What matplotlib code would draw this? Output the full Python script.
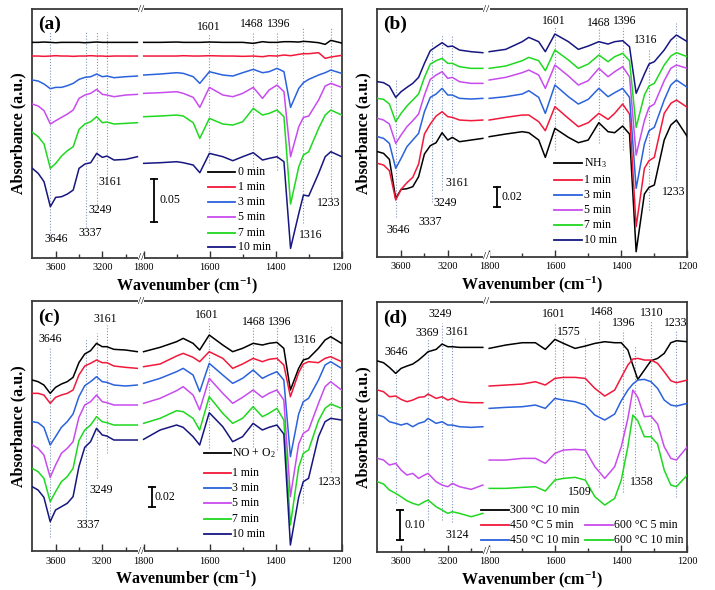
import numpy as np
import matplotlib
matplotlib.use('Agg')
from matplotlib import pyplot as plt

plt.rcParams['font.family'] = ['Liberation Serif', 'DejaVu Serif']
plt.rcParams['mathtext.fontset'] = 'custom'
plt.rcParams['mathtext.rm'] = 'Liberation Serif'
plt.rcParams['mathtext.it'] = 'Liberation Serif:italic'
plt.rcParams['mathtext.bf'] = 'Liberation Serif:bold'

# wavenumber grids (cm-1) of the two parts of the broken axis
wn_hi = [3800, 3750, 3700, 3646, 3600, 3550, 3500, 3450, 3400, 3350, 3300, 3249, 3200, 3161, 3100, 3000, 2900]
wn_lo = [1800, 1750, 1700, 1680, 1650, 1630, 1601, 1560, 1530, 1500, 1468, 1440, 1420, 1396, 1375, 1355,
         1330, 1316, 1300, 1270, 1250, 1233, 1200]
wn_hi_d = [3800, 3750, 3700, 3646, 3600, 3550, 3500, 3450, 3400, 3369, 3300, 3249, 3200, 3161, 3100, 3000, 2900]
wn_lo_d = [1800, 1750, 1700, 1660, 1630, 1601, 1575, 1540, 1509, 1480, 1450, 1420, 1400, 1380, 1365, 1350,
           1330, 1310, 1290, 1270, 1250, 1233, 1200]

# (a) absorbance, a.u. (stacked)
a_0_hi = [646, 646, 647, 646, 645, 646, 646, 646, 646, 645, 646, 647, 646, 646, 646, 646, 646]
a_0_lo = [646, 646, 647, 646, 646, 646, 647, 646, 646, 646, 643, 648, 646, 646, 648, 648, 647, 649, 648, 645, 640, 652, 644]
a_1_hi = [605, 605, 604, 605, 606, 605, 605, 604, 605, 605, 606, 605, 605, 604, 605, 605, 605]
a_1_lo = [605, 605, 605, 606, 605, 605, 606, 605, 605, 604, 605, 603, 606, 605, 608, 606, 610, 612, 612, 615, 598, 602, 607]
a_3_hi = [533, 530, 521, 507, 511, 511, 516, 523, 535, 541, 543, 551, 543, 545, 540, 543, 545]
a_3_lo = [548, 551, 555, 553, 543, 523, 558, 548, 545, 555, 565, 555, 558, 568, 558, 451, 508, 525, 535, 548, 555, 563, 553]
a_5_hi = [461, 455, 441, 401, 411, 421, 431, 443, 478, 488, 493, 505, 490, 488, 483, 488, 490]
a_5_lo = [493, 495, 498, 493, 481, 451, 511, 488, 483, 493, 511, 478, 503, 518, 498, 303, 393, 421, 425, 473, 515, 523, 511]
a_7_hi = [376, 363, 341, 268, 283, 305, 321, 333, 385, 401, 408, 423, 405, 407, 401, 403, 405]
a_7_lo = [423, 425, 428, 425, 405, 358, 418, 401, 398, 408, 448, 428, 433, 443, 423, 161, 273, 308, 318, 388, 428, 443, 428]
a_10_hi = [268, 253, 228, 153, 181, 183, 191, 203, 268, 281, 285, 313, 301, 305, 293, 295, 303]
a_10_lo = [283, 285, 288, 285, 278, 255, 313, 303, 291, 303, 315, 293, 298, 303, 288, 28, 133, 188, 185, 253, 303, 318, 303]

# (b)
b_0_hi = [315, 310, 292, 175, 202, 204, 210, 240, 308, 333, 342, 372, 350, 358, 345, 350, 355]
b_0_lo = [360, 368, 375, 372, 350, 298, 385, 358, 342, 350, 402, 375, 372, 392, 368, 15, 188, 208, 215, 350, 395, 410, 360]
b_1_hi = [280, 275, 258, 170, 202, 222, 238, 278, 368, 398, 422, 435, 420, 418, 410, 408, 410]
b_1_lo = [410, 418, 425, 425, 405, 378, 450, 415, 390, 402, 430, 412, 430, 458, 428, 90, 265, 288, 298, 430, 460, 470, 448]
b_3_hi = [360, 355, 340, 265, 295, 330, 350, 370, 435, 478, 488, 505, 485, 485, 475, 473, 475]
b_3_lo = [475, 480, 488, 498, 478, 430, 515, 480, 458, 472, 505, 480, 492, 505, 478, 205, 338, 378, 388, 470, 515, 530, 508]
b_5_hi = [415, 410, 398, 340, 365, 390, 408, 428, 485, 532, 545, 555, 535, 538, 525, 520, 520]
b_5_lo = [530, 538, 552, 560, 545, 505, 575, 542, 515, 528, 565, 540, 555, 570, 540, 305, 408, 448, 458, 528, 565, 575, 565]
b_7_hi = [475, 472, 458, 405, 430, 452, 470, 488, 538, 578, 588, 595, 580, 580, 570, 565, 565]
b_7_lo = [565, 572, 588, 598, 588, 558, 620, 590, 565, 578, 605, 585, 600, 610, 588, 388, 485, 512, 520, 575, 602, 612, 600]
b_10_hi = [525, 522, 512, 478, 495, 508, 520, 538, 580, 618, 630, 642, 630, 632, 620, 615, 612]
b_10_lo = [615, 622, 645, 658, 645, 615, 668, 645, 622, 632, 645, 638, 645, 648, 630, 490, 548, 578, 585, 620, 650, 665, 645]

# (c)
c_0_hi = [513, 508, 498, 473, 491, 501, 508, 521, 565, 591, 601, 623, 613, 613, 605, 603, 598]
c_0_lo = [598, 611, 628, 638, 623, 603, 648, 618, 598, 608, 623, 618, 623, 626, 608, 483, 548, 573, 578, 608, 633, 643, 623]
c_1_hi = [473, 473, 468, 443, 461, 468, 473, 483, 528, 555, 563, 573, 565, 565, 555, 551, 548]
c_1_lo = [553, 561, 585, 593, 581, 568, 598, 578, 548, 561, 578, 568, 575, 578, 558, 463, 535, 561, 568, 565, 578, 583, 568]
c_3_hi = [388, 385, 371, 318, 343, 371, 388, 411, 463, 496, 508, 523, 508, 506, 498, 495, 498]
c_3_lo = [503, 518, 538, 548, 528, 478, 563, 528, 503, 518, 543, 518, 528, 538, 513, 283, 411, 448, 458, 513, 558, 568, 548]
c_5_hi = [318, 308, 288, 221, 258, 293, 308, 328, 401, 438, 448, 468, 448, 445, 438, 438, 438]
c_5_lo = [443, 458, 481, 493, 468, 423, 518, 473, 443, 461, 483, 461, 473, 483, 453, 163, 321, 353, 363, 443, 493, 508, 483]
c_7_hi = [248, 238, 218, 148, 178, 208, 223, 248, 331, 363, 378, 403, 388, 385, 378, 378, 378]
c_7_lo = [383, 398, 421, 418, 398, 363, 463, 413, 383, 398, 433, 403, 413, 428, 393, 78, 251, 293, 303, 391, 428, 441, 428]
c_10_hi = [193, 183, 161, 88, 123, 133, 143, 163, 253, 311, 328, 368, 348, 345, 333, 333, 333]
c_10_lo = [335, 363, 378, 371, 343, 318, 415, 373, 328, 343, 383, 363, 371, 378, 351, 18, 161, 208, 218, 343, 388, 398, 393]

# (d)
d_300_10_hi = [572, 567, 553, 535, 550, 557, 563, 575, 590, 600, 607, 623, 615, 615, 613, 613, 613]
d_300_10_lo = [610, 620, 627, 627, 607, 637, 625, 610, 617, 625, 630, 627, 627, 605, 560, 517, 545, 573, 580, 595, 627, 633, 630]
d_450_5_hi = [485, 480, 465, 467, 457, 450, 455, 463, 465, 473, 460, 465, 455, 460, 450, 447, 447]
d_450_5_lo = [497, 500, 503, 510, 500, 520, 523, 523, 520, 490, 467, 485, 523, 560, 578, 580, 575, 575, 565, 540, 513, 507, 515]
d_450_10_hi = [410, 405, 390, 385, 380, 385, 375, 385, 390, 400, 385, 390, 380, 380, 375, 373, 375]
d_450_10_lo = [430, 433, 435, 440, 430, 460, 455, 450, 440, 410, 395, 413, 453, 485, 503, 515, 517, 510, 490, 455, 440, 437, 445]
d_600_5_hi = [280, 275, 260, 265, 245, 230, 235, 220, 230, 235, 210, 200, 195, 205, 195, 187, 200]
d_600_5_lo = [275, 275, 280, 280, 265, 295, 305, 307, 305, 255, 220, 255, 315, 400, 485, 463, 405, 407, 383, 315, 280, 275, 315]
d_600_10_hi = [210, 203, 185, 175, 165, 153, 145, 140, 150, 155, 135, 125, 115, 120, 115, 105, 115]
d_600_10_lo = [190, 190, 193, 195, 182, 215, 220, 223, 215, 165, 140, 160, 215, 315, 410, 393, 345, 345, 323, 245, 200, 195, 230]

labels_a = ['0 min', '1 min', '3 min', '5 min', '7 min', '10 min']
labels_b = ['NH$_3$', '1 min', '3 min', '5 min', '7 min', '10 min']
labels_c = ['NO + O$_2$', '1 min', '3 min', '5 min', '7 min', '10 min']
labels_d = ['300 \u00b0C 10 min', '450 \u00b0C 5 min', '450 \u00b0C 10 min', '600 \u00b0C 5 min', '600 \u00b0C 10 min']

# band positions marked in each panel (cm-1)
bands_a = [3646, 3337, 3249, 3161, 1601, 1468, 1396, 1316, 1233]
bands_b = [3646, 3337, 3249, 3161, 1601, 1468, 1396, 1316, 1233]
bands_c = [3646, 3337, 3249, 3161, 1601, 1468, 1396, 1316, 1233]
bands_d = [3646, 3369, 3249, 3161, 1601, 1575, 1509, 1468, 1396, 1358, 1310, 1233]

BLACK, RED, BLUE, PURPLE, GREEN, NAVY = '#000000', '#f2183a', '#2a62dc', '#c84bee', '#1fd81f', '#161680'
GUIDE = '#7f95ba'

# broken x axis: 3806-2880 compressed, 1800-1200 expanded
WN_KNOTS = [0, 1200, 1800, 2880, 6000]
U_KNOTS = [-396, 0, 198, 202, 202 + 3120 * 0.1167]


def fwd(w):
    return np.interp(w, WN_KNOTS, U_KNOTS)


def inv(u):
    return np.interp(u, U_KNOTS, WN_KNOTS)


fig = plt.figure(figsize=(7.15, 5.9), dpi=100)
axes = {
    'a': fig.add_axes([0.0443, 0.5632, 0.4336, 0.4215]),
    'b': fig.add_axes([0.5273, 0.5649, 0.4340, 0.4198]),
    'c': fig.add_axes([0.0441, 0.0661, 0.4336, 0.4237]),
    'd': fig.add_axes([0.5273, 0.0649, 0.4340, 0.4237]),
}


def setup(ax, top, tag, tag_y):
    ax.set_xscale('function', functions=(fwd, inv))
    ax.set_xlim(3806, 1200)
    ax.set_ylim(0, top)
    ax.set_yticks([])
    ax.set_xticks([3600, 3200, 1800, 1600, 1400, 1200])
    ax.set_xticklabels(['3600', '3200', '1800', '1600', '1400', '1200'])
    ax.set_xticks([3400, 3000, 1700, 1500, 1300], minor=True)
    ax.tick_params(axis='x', which='both', direction='in', top=False, labelsize=7.5, pad=4,
                   color='#333333')
    ax.tick_params(axis='x', which='major', length=5, width=1)
    ax.tick_params(axis='x', which='minor', length=3, width=1)
    for sp in ax.spines.values():
        sp.set_color('#3a3a3a')
        sp.set_linewidth(1.3)
    ax.set_xlabel(r'Wavenumber (cm$^{\mathbf{-1}}$)', fontsize=11.5, fontweight='bold', labelpad=2)
    ax.set_ylabel('Absorbance (a.u.)', fontsize=11.5, fontweight='bold', labelpad=4)
    ax.text(0.02, tag_y, '(%s)' % tag, transform=ax.transAxes, fontsize=14, fontweight='bold',
            ha='left', va='center')
    # break marks on the frame
    for yy in (0, 1):
        ax.text(2500, yy, '//', transform=ax.get_xaxis_transform(), ha='center', va='center',
                fontsize=8, clip_on=False, zorder=6,
                bbox=dict(facecolor='white', edgecolor='none', pad=0))


def curves(ax, pairs, colors, hi=wn_hi, lo=wn_lo):
    for (yh, yl), c in zip(pairs, colors):
        ax.plot(hi, yh, color=c, lw=1.1, zorder=3)
        ax.plot(lo, yl, color=c, lw=1.1, zorder=3)


def guides(ax, bands, spans):
    for w, (v0, v1) in zip(bands, spans):
        ax.plot([w, w], [v0, v1], color=GUIDE, lw=0.8, ls=(0, (1, 1.6)), zorder=2)


def band_labels(ax, bands, places):
    for w, (x, y) in zip(bands, places):
        ax.text(x, y, str(w), fontsize=8.5, ha='center', va='center', zorder=4)


def scale_bar(ax, x, v0, v1, text, tx):
    ax.plot([x, x], [v0, v1], color='black', lw=1.3, marker='_', ms=6, mew=1.3, zorder=4)
    ax.text(tx, (v0 + v1) / 2, text, fontsize=8.5, ha='left', va='center')


def legend(ax, labels, colors, rows, x0, x1, xt):
    for lab, c, (y, dx) in zip(labels, colors, rows):
        ax.plot([x0 + dx, x1 + dx], [y, y], color=c, lw=1.3, transform=ax.transAxes)
        ax.text(xt + dx, y, lab, fontsize=8.5, ha='left', va='center', transform=ax.transAxes)


colors6 = [BLACK, RED, BLUE, PURPLE, GREEN, NAVY]

# ---- (a)
ax = axes['a']
setup(ax, 746, 'a', 0.94)
curves(ax, [(a_0_hi, a_0_lo), (a_1_hi, a_1_lo), (a_3_hi, a_3_lo), (a_5_hi, a_5_lo),
            (a_7_hi, a_7_lo), (a_10_hi, a_10_lo)], colors6)
guides(ax, bands_a, [(73, 678), (93, 678), (153, 678), (243, 678), (283, 673), (263, 678),
                     (263, 678), (103, 688), (183, 693)])
band_labels(ax, bands_a, [(3600, 55), (3306, 73), (3220, 143), (3134, 228), (1604, 693),
                          (1473, 701), (1392, 701), (1294, 68), (1240, 163)])
scale_bar(ax, 1769, 108, 236, '0.05', 1753)
legend(ax, labels_a, colors6, [(0.346, 0), (0.286, 0), (0.225, 0), (0.162, 0), (0.101, 0), (0.042, 0)],
       0.570, 0.656, 0.667)

# ---- (b)
ax = axes['b']
setup(ax, 743, 'b', 0.94)
curves(ax, [(b_0_hi, b_0_lo), (b_1_hi, b_1_lo), (b_3_hi, b_3_lo), (b_5_hi, b_5_lo),
            (b_7_hi, b_7_lo), (b_10_hi, b_10_lo)], colors6)
guides(ax, bands_b, [(120, 530), (165, 645), (200, 665), (250, 662), (320, 690), (340, 685),
                     (320, 685), (140, 620), (230, 700)])
band_labels(ax, bands_b, [(3623, 80), (3351, 105), (3223, 160), (3123, 222), (1605, 708),
                          (1469, 702), (1391, 708), (1327, 650), (1241, 195)])
scale_bar(ax, 1776, 150, 210, '0.02', 1764)
legend(ax, labels_b, colors6, [(0.377, 0), (0.310, 0), (0.249, 0), (0.188, 0), (0.128, 0), (0.067, 0)],
       0.571, 0.660, 0.668)

# ---- (c)
ax = axes['c']
setup(ax, 750, 'c', 0.935)
curves(ax, [(c_0_hi, c_0_lo), (c_1_hi, c_1_lo), (c_3_hi, c_3_lo), (c_5_hi, c_5_lo),
            (c_7_hi, c_7_lo), (c_10_hi, c_10_lo)], colors6)
guides(ax, bands_c, [(43, 613), (93, 638), (218, 653), (293, 678), (308, 683), (313, 673),
                     (303, 673), (143, 618), (238, 673)])
band_labels(ax, bands_c, [(3650, 635), (3320, 78), (3206, 183), (3178, 695), (1609, 708),
                          (1466, 688), (1387, 688), (1311, 633), (1235, 208)])
scale_bar(ax, 1776, 133, 193, '0.02', 1766)
legend(ax, labels_c, colors6, [(0.391, 0), (0.313, 0), (0.251, 0), (0.191, 0), (0.127, 0), (0.067, 0)],
       0.556, 0.642, 0.647)

# ---- (d)
ax = axes['d']
setup(ax, 750, 'd', 0.935)
colors5 = [BLACK, RED, BLUE, PURPLE, GREEN]
curves(ax, [(d_300_10_hi, d_300_10_lo), (d_450_5_hi, d_450_5_lo), (d_450_10_hi, d_450_10_lo),
            (d_600_5_hi, d_600_5_lo), (d_600_10_hi, d_600_10_lo)], colors5, wn_hi_d, wn_lo_d)
guides(ax, bands_d, [(145, 555), (95, 640), (95, 685), (90, 640), (195, 685), (220, 645),
                     (220, 640), (195, 695), (180, 665), (230, 620), (305, 695), (165, 665)])
band_labels(ax, bands_d, [(3645, 600), (3380, 655), (3266, 713), (3123, 660), (1603, 713),
                          (1558, 660), (1527, 180), (1458, 720), (1393, 685), (1337, 210),
                          (1309, 717), (1234, 685)])
ax.text(3123, 50, '3124', fontsize=8.5, ha='center', va='center')
scale_bar(ax, 3609, 35, 125, '0.10', 3572)
legend(ax, labels_d, colors5, [(0.167, 0), (0.107, 0), (0.047, 0), (0.107, 0.336), (0.047, 0.336)],
       0.335, 0.424, 0.429)

fig.savefig('out.png', dpi=100)
